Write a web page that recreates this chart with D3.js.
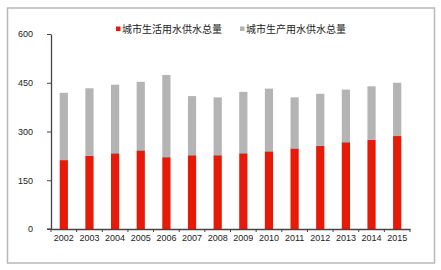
<!DOCTYPE html>
<html>
<head>
<meta charset="utf-8">
<script src="https://cdn.jsdelivr.net/npm/d3@7"></script>
<style>
  html, body { margin: 0; padding: 0; background: #fff; }
  .axis text { font-family: "Liberation Sans Narrow", "Arial Narrow", "Liberation Sans", sans-serif; font-size: 9px; fill: #222; }
  .legend text { font-family: "Noto Sans CJK SC", sans-serif; font-size: 10px; fill: #222; }
</style>
</head>
<body>
<div id="chart"></div>
<script>
const years = ['2002', '2003', '2004', '2005', '2006', '2007', '2008', '2009', '2010', '2011', '2012', '2013', '2014', '2015'];
// 城市生活用水供水总量
const domestic = [212, 225, 233, 242, 221, 227, 227, 233, 239, 248, 256, 267, 275, 286];
// 城市生产用水供水总量 (stacked on top)
const production = [207, 208, 211, 211, 253, 182, 178, 189, 193, 157, 160, 162, 164, 164];
const seriesNames = ['城市生活用水供水总量', '城市生产用水供水总量'];
const yTicks = [0, 150, 300, 450, 600];

const width = 441;
const height = 270;
const margin = { top: 34, right: 31, bottom: 41, left: 51 };
const colors = ['#e61a06', '#b4b4b4'];

const svg = d3.select('#chart')
  .append('svg')
  .attr('width', width)
  .attr('height', height);

// outer frame
svg.append('rect')
  .attr('x', 7.5)
  .attr('y', 8)
  .attr('width', 427)
  .attr('height', 255)
  .attr('fill', 'none')
  .attr('stroke', '#b8b8b8')
  .attr('stroke-width', 1.5);

const rows = years.map((y, i) => ({ year: y, a: domestic[i], b: production[i] }));
const stacked = d3.stack().keys(['a', 'b'])(rows);

const x = d3.scaleBand()
  .domain(years)
  .range([margin.left, width - margin.right])
  .padding(0);

const y = d3.scaleLinear()
  .domain([0, 600])
  .range([height - margin.bottom, margin.top]);

const barW = x.bandwidth() * 0.32;

svg.append('g')
  .selectAll('g')
  .data(stacked)
  .join('g')
  .attr('fill', (d, i) => colors[i])
  .selectAll('rect')
  .data(d => d)
  .join('rect')
  .attr('x', d => x(d.data.year) + (x.bandwidth() - barW) / 2)
  .attr('width', barW)
  .attr('y', d => y(d[1]))
  .attr('height', d => y(d[0]) - y(d[1]));

// y axis
const yAxis = svg.append('g')
  .attr('class', 'axis')
  .attr('transform', `translate(${margin.left}, 0)`)
  .call(d3.axisLeft(y).tickValues(yTicks).tickSize(4).tickPadding(14).tickSizeOuter(0));
yAxis.select('.domain').attr('stroke', '#444').attr('stroke-width', 1.3);
yAxis.selectAll('.tick line').attr('stroke', '#444');

// x axis: labels under categories, ticks at category boundaries
const xAxis = svg.append('g')
  .attr('class', 'axis')
  .attr('transform', `translate(0, ${height - margin.bottom})`)
  .call(d3.axisBottom(x).tickSize(0).tickPadding(6).tickSizeOuter(0));
xAxis.select('.domain').attr('stroke', '#444').attr('stroke-width', 1.3);
xAxis.selectAll('.boundary')
  .data(d3.range(years.length + 1))
  .join('line')
  .attr('class', 'boundary')
  .attr('x1', i => margin.left + i * x.step())
  .attr('x2', i => margin.left + i * x.step())
  .attr('y1', 0)
  .attr('y2', 3)
  .attr('stroke', '#444');
xAxis.append('line')
  .attr('x1', margin.left - 4)
  .attr('x2', margin.left)
  .attr('stroke', '#444')
  .attr('stroke-width', 1.3);

// legend
const legendX = [116, 240];
const legend = svg.append('g')
  .attr('class', 'legend')
  .selectAll('g')
  .data(seriesNames)
  .join('g')
  .attr('transform', (d, i) => `translate(${legendX[i]}, 29)`);
legend.append('rect')
  .attr('x', 0)
  .attr('y', -2.5)
  .attr('width', 4.5)
  .attr('height', 4.5)
  .attr('fill', (d, i) => colors[i]);
legend.append('text')
  .attr('x', 6)
  .attr('dy', '0.35em')
  .text(d => d);
</script>
</body>
</html>
